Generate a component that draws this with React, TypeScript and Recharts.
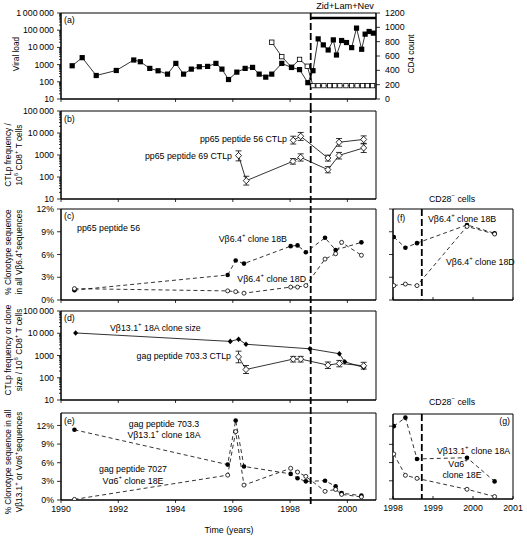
import React from "react";
import {
  LineChart,
  Line,
  XAxis,
  YAxis,
  ReferenceLine,
  ReferenceArea,
  ErrorBar,
} from "recharts";

const FONT = "'Liberation Sans', Arial, Helvetica, sans-serif";

// start of Zid+Lam+Nev therapy
const therapyStart = 1998.72;

const mainYears = [1990, 1992, 1994, 1996, 1998, 2000];
const insetYears = [1998, 1999, 2000, 2001];
const logMajors = [10, 100, 1000, 10000, 100000, 1000000];
const cd4Ticks = [0, 200, 400, 600, 800, 1000, 1200];
const pctTicks = [0, 3, 6, 9, 12];

// (a) CD4 count (filled squares, right axis)
const cd4Years = [
  1990.39, 1990.74, 1991.23, 1991.93, 1992.54, 1992.77, 1993.1, 1993.39, 1993.72, 1994.01,
  1994.28, 1994.55, 1994.83, 1995.12, 1995.41, 1995.62, 1995.85, 1996.14, 1996.43, 1996.69,
  1996.92, 1997.15, 1997.36, 1997.71, 1998.05, 1998.33, 1998.62, 1998.8, 1998.98, 1999.16,
  1999.33, 1999.51, 1999.62, 1999.8, 1999.97, 2000.15, 2000.32, 2000.5, 2000.62, 2000.76,
  2000.91,
];
const cd4Counts = [
  464, 577, 328, 398, 544, 520, 427, 394, 347, 497,
  347, 417, 450, 455, 497, 417, 272, 375, 427, 441,
  347, 305, 347, 497, 440, 410, 228, 395, 839, 755,
  684, 825, 614, 816, 788, 717, 989, 694, 905, 942,
  919,
];

// (a) viral load (open squares, left axis)
const vlYears = [
  1997.36, 1997.71, 1998.05, 1998.33, 1998.6, 1998.8, 1998.98, 1999.18, 1999.38, 1999.56,
  1999.74, 1999.95, 2000.15, 2000.34, 2000.53, 2000.7, 2000.88,
];
const viralLoad = [20000, 2900, 700, 2000, 800, 60, 60, 60, 60, 60, 60, 60, 60, 60, 60, 60, 60];

// (b) CTLp frequencies
const pep56Years = [1998.11, 1998.37, 1999.32, 1999.71, 2000.57];
const pep56Ctlp = [4650, 7100, 730, 3800, 5100];
const pep56Err = [[1500, 2500], [2500, 3500], [200, 250], [1300, 1800], [1700, 2300]];
const pep69Years = [1996.2, 1996.47, 1998.1, 1998.37, 1999.32, 1999.71, 2000.57];
const pep69Ctlp = [940, 68, 515, 780, 215, 960, 2100];
const pep69Err = [[400, 600], [25, 40], [130, 170], [250, 350], [60, 80], [300, 350], [800, 1100]];

// (c) Vb6.4 clonotypes, all cells
const clonYears = [1990.47, 1995.82, 1996.1, 1996.39, 1998.02, 1998.26, 1998.55, 1999.22, 1999.59, 1999.8, 2000.49];
const clone18B = [1.3, 3.3, 5.2, 4.8, 7.1, 7.2, 6.3, 8.2, 6.6, null, 7.6];
const clone18D = [1.5, 1.2, 1.1, 0.9, 1.7, 1.7, 1.9, 5.4, 6.1, 7.6, 5.9];

// (d) clone 18A size and gag 703.3 CTLp
const size18AYears = [1990.51, 1995.91, 1996.2, 1996.46, 1998.69, 1999.72, 1999.91, 2000.57];
const size18A = [10300, 4300, 5400, 3200, 2000, 1200, 520, 290];
const gagYears = [1996.2, 1996.46, 1998.11, 1998.37, 1999.32, 1999.72, 2000.57];
const gagCtlp = [870, 235, 690, 690, 370, 440, 345];
const gagErr = [[400, 700], [80, 120], [180, 220], [180, 220], [110, 140], [130, 160], [100, 150]];

// (e) Vb13.1 clone 18A and Va6 clone 18E, all cells
const clone18A = [11.3, 5.7, 12.8, 5.4, 4.2, 3.5, 3.0, 3.1, 2.2, 1.1, 0.7];
const clone18E = [0.1, 4.0, 11.0, 2.4, 5.1, 4.5, 3.8, 1.4, 1.7, 0.9, 0.5];

// (f), (g) CD28- cells
const cd28Years = [1998.02, 1998.31, 1998.6, 1999.85, 2000.54];
const cd28_18B = [8.3, 6.9, 7.5, 9.9, 8.8];
const cd28_18D = [1.9, 2.1, 1.9, 9.7, 8.7];
const cd28_18A = [12.0, 13.4, 6.6, 6.8, 2.9];
const cd28_18E = [7.4, 3.9, 3.4, 1.6, 0.4];

const zip = (xs: number[], ys: (number | null)[], errs?: number[][]) =>
  xs.map((x, i) => ({ x, y: ys[i], err: errs ? errs[i] : undefined })).filter((d) => d.y != null);

const fmtLog = (v: number) =>
  v >= 10000 ? String(v).replace(/\B(?=(\d{3})+(?!\d))/g, "\u2009") : String(v);

const logTicks = (lo: number, hi: number) => {
  const out: number[] = [];
  logMajors.forEach((m) => {
    if (m < lo || m > hi) return;
    out.push(m);
    if (m < hi) for (let k = 2; k < 10; k++) out.push(m * k);
  });
  return out;
};

// ---- marks ----
const FilledSquare = (p: any) =>
  p.cx == null ? null : <rect key={p.index} x={p.cx - 2.6} y={p.cy - 2.6} width={5.2} height={5.2} fill="#000" />;
const OpenSquare = (p: any) =>
  p.cx == null ? null : (
    <rect key={p.index} x={p.cx - 2.2} y={p.cy - 2.2} width={4.4} height={4.4} fill="#fff" stroke="#000" strokeWidth={0.8} />
  );
const OpenDiamond = (p: any) =>
  p.cx == null ? null : (
    <path key={p.index} d={`M${p.cx},${p.cy - 3.2}L${p.cx + 3},${p.cy}L${p.cx},${p.cy + 3.2}L${p.cx - 3},${p.cy}Z`} fill="#fff" stroke="#000" strokeWidth={0.8} />
  );
const FilledDiamond = (p: any) =>
  p.cx == null ? null : (
    <path key={p.index} d={`M${p.cx},${p.cy - 2.8}L${p.cx + 2.5},${p.cy}L${p.cx},${p.cy + 2.8}L${p.cx - 2.5},${p.cy}Z`} fill="#000" />
  );
const FilledCircle = (p: any) =>
  p.cx == null ? null : <circle key={p.index} cx={p.cx} cy={p.cy} r={2.3} fill="#000" />;
const OpenCircle = (p: any) =>
  p.cx == null ? null : <circle key={p.index} cx={p.cx} cy={p.cy} r={2} fill="#fff" stroke="#000" strokeWidth={0.8} />;

// ---- ticks ----
const LeftTick = (p: any) => {
  const { x, y, payload, majors, labels, fmt } = p;
  const major = majors.includes(payload.value);
  return (
    <g>
      <line x1={x} x2={x - (major ? 4 : 2)} y1={y} y2={y} stroke="#000" strokeWidth={0.8} />
      {labels && major && (
        <text x={x - 7} y={y} dy="0.35em" textAnchor="end" fontSize={8.8} fontFamily={FONT} fill="#000">
          {fmt(payload.value)}
        </text>
      )}
    </g>
  );
};
const RightTick = (p: any) => (
  <g>
    <line x1={p.x} x2={p.x + 4} y1={p.y} y2={p.y} stroke="#000" strokeWidth={0.8} />
    <text x={p.x + 9} y={p.y} dy="0.35em" textAnchor="start" fontSize={8.8} fontFamily={FONT} fill="#000">
      {p.payload.value}
    </text>
  </g>
);
const BottomTick = (p: any) => (
  <g>
    <line x1={p.x} x2={p.x} y1={p.y} y2={p.inward ? p.y - 3 : p.y + 3} stroke="#000" strokeWidth={0.8} />
    {p.labels && (
      <text x={p.x} y={p.y + 6} dy="0.71em" textAnchor="middle" fontSize={8.8} fontFamily={FONT} fill="#000">
        {p.payload.value}
      </text>
    )}
  </g>
);

const therapyShape = (up: number, down: number) => (p: any) => (
  <line
    x1={p.x1}
    x2={p.x2}
    y1={Math.min(p.y1, p.y2) - up}
    y2={Math.max(p.y1, p.y2) + down}
    stroke="#000"
    strokeWidth={1.8}
    strokeDasharray="7 3"
  />
);

const Note = ({ x, y, align = "left", children, size = 8.8 }: any) => (
  <div
    style={{
      position: "absolute",
      left: x,
      top: y,
      transform: `translate(${align === "left" ? "0" : align === "right" ? "-100%" : "-50%"}, -50%)`,
      fontFamily: FONT,
      fontSize: size,
      lineHeight: 1.15,
      whiteSpace: "nowrap",
      textAlign: align,
      color: "#000",
    }}
  >
    {children}
  </div>
);

const YTitle = ({ x, y, lines }: any) => (
  <div
    style={{
      position: "absolute",
      left: x,
      top: y,
      transform: "translate(-50%, -50%) rotate(-90deg)",
      fontFamily: FONT,
      fontSize: 8.3,
      lineHeight: 1.35,
      whiteSpace: "nowrap",
      textAlign: "center",
      color: "#000",
    }}
  >
    {lines.map((l: any, i: number) => (
      <div key={i}>{l}</div>
    ))}
  </div>
);

const Sup = ({ children }: any) => (
  <sup style={{ fontSize: 6, verticalAlign: "top", position: "relative", top: -2 }}>{children}</sup>
);

const lineProps = {
  type: "linear" as const,
  dataKey: "y",
  stroke: "#000",
  strokeWidth: 0.8,
  activeDot: false,
  isAnimationActive: false,
  connectNulls: true,
};
const dashed = "4 3";

const MainX = ({ labels = false, height }: any) => (
  <XAxis
    type="number"
    dataKey="x"
    domain={[1990, 2001]}
    ticks={mainYears}
    allowDataOverflow
    height={height}
    tickSize={0}
    tickMargin={0}
    tickLine={false}
    axisLine={{ stroke: "#000", strokeWidth: 1 }}
    tick={(p: any) => <BottomTick {...p} labels={labels} />}
    interval={0}
  />
);

const InsetX = ({ labels = false, height }: any) => (
  <XAxis
    type="number"
    dataKey="x"
    domain={[1998, 2001]}
    ticks={insetYears}
    allowDataOverflow
    height={height}
    tickSize={0}
    tickMargin={0}
    tickLine={false}
    axisLine={{ stroke: "#000", strokeWidth: 1 }}
    tick={(p: any) => <BottomTick {...p} labels={labels} inward />}
    interval={0}
  />
);

const LogY = ({ lo, hi, id = "l" }: any) => (
  <YAxis
    yAxisId={id}
    scale="log"
    domain={[lo, hi]}
    ticks={logTicks(lo, hi)}
    allowDataOverflow
    width={61}
    tickSize={0}
    tickMargin={0}
    tickLine={false}
    axisLine={{ stroke: "#000", strokeWidth: 1 }}
    tick={(p: any) => <LeftTick {...p} majors={logMajors} labels fmt={fmtLog} />}
    interval={0}
  />
);

const PctY = ({ hi, width = 61, labels = true }: any) => (
  <YAxis
    yAxisId="l"
    domain={[0, hi]}
    ticks={pctTicks}
    allowDataOverflow
    width={width}
    tickSize={0}
    tickMargin={0}
    tickLine={false}
    axisLine={{ stroke: "#000", strokeWidth: 1 }}
    tick={(p: any) => <LeftTick {...p} majors={pctTicks} labels={labels} fmt={(v: number) => `${v}%`} />}
    interval={0}
  />
);

const Frame = ({ x1, x2, y1, y2, id = "l" }: any) => (
  <ReferenceArea yAxisId={id} x1={x1} x2={x2} y1={y1} y2={y2} fill="none" stroke="#000" strokeWidth={1} fillOpacity={0} ifOverflow="visible" />
);

const W = 527;

export default function App() {
  return (
    <div style={{ position: "absolute", left: 0, top: 0, width: W, height: 539, background: "#fff", overflow: "hidden" }}>
      <style>{`svg.recharts-surface { overflow: visible; }`}</style>
      {/* (a) */}
      <div style={{ position: "absolute", left: 0, top: 0 }}>
        <LineChart width={W} height={106} margin={{ top: 13, right: 0, bottom: 0, left: 0 }}>
          <MainX height={7} />
          <LogY lo={10} hi={1000000} />
          <YAxis
            yAxisId="cd4"
            orientation="right"
            domain={[0, 1200]}
            ticks={cd4Ticks}
            width={151}
            tickSize={0}
            tickMargin={0}
            tickLine={false}
            axisLine={{ stroke: "#000", strokeWidth: 1 }}
            tick={(p: any) => <RightTick {...p} />}
            interval={0}
          />
          <Frame x1={1990} x2={2001} y1={10} y2={1000000} />
          <ReferenceLine yAxisId="l" x={therapyStart} shape={therapyShape(0, 7)} />
          <ReferenceLine
            yAxisId="cd4"
            segment={[{ x: therapyStart, y: 1130 }, { x: 2001, y: 1130 }]}
            stroke="#000"
            strokeWidth={2.6}
          />
          <Line {...lineProps} yAxisId="l" data={zip(vlYears, viralLoad)} dot={OpenSquare} />
          <Line {...lineProps} yAxisId="cd4" data={zip(cd4Years, cd4Counts)} dot={FilledSquare} />
        </LineChart>
      </div>

      {/* (b) */}
      <div style={{ position: "absolute", left: 0, top: 106 }}>
        <LineChart width={W} height={100} margin={{ top: 5, right: 151, bottom: 0, left: 0 }}>
          <MainX height={7} />
          <LogY lo={10} hi={100000} />
          <Frame x1={1990} x2={2001} y1={10} y2={100000} />
          <ReferenceLine yAxisId="l" x={therapyStart} shape={therapyShape(5, 7)} />
          <Line {...lineProps} yAxisId="l" data={zip(pep56Years, pep56Ctlp, pep56Err)} dot={OpenDiamond}>
            <ErrorBar dataKey="err" width={3} stroke="#000" strokeWidth={0.8} direction="y" />
          </Line>
          <Line {...lineProps} yAxisId="l" data={zip(pep69Years, pep69Ctlp, pep69Err)} dot={OpenDiamond}>
            <ErrorBar dataKey="err" width={3} stroke="#000" strokeWidth={0.8} direction="y" />
          </Line>
        </LineChart>
      </div>

      {/* (c) */}
      <div style={{ position: "absolute", left: 0, top: 206 }}>
        <LineChart width={W} height={101} margin={{ top: 3, right: 151, bottom: 0, left: 0 }}>
          <MainX height={7} />
          <PctY hi={12} />
          <Frame x1={1990} x2={2001} y1={0} y2={12} />
          <ReferenceLine yAxisId="l" x={therapyStart} shape={therapyShape(3, 7)} />
          <Line {...lineProps} yAxisId="l" strokeDasharray={dashed} data={zip(clonYears, clone18B)} dot={FilledCircle} />
          <Line {...lineProps} yAxisId="l" strokeDasharray={dashed} data={zip(clonYears, clone18D)} dot={OpenCircle} />
        </LineChart>
      </div>

      {/* (d) */}
      <div style={{ position: "absolute", left: 0, top: 307 }}>
        <LineChart width={W} height={100} margin={{ top: 4, right: 151, bottom: 0, left: 0 }}>
          <MainX height={7} />
          <LogY lo={10} hi={100000} />
          <Frame x1={1990} x2={2001} y1={10} y2={100000} />
          <ReferenceLine yAxisId="l" x={therapyStart} shape={therapyShape(4, 7)} />
          <Line {...lineProps} yAxisId="l" data={zip(size18AYears, size18A)} dot={FilledDiamond} />
          <Line {...lineProps} yAxisId="l" data={zip(gagYears, gagCtlp, gagErr)} dot={OpenDiamond}>
            <ErrorBar dataKey="err" width={3} stroke="#000" strokeWidth={0.8} direction="y" />
          </Line>
        </LineChart>
      </div>

      {/* (e) */}
      <div style={{ position: "absolute", left: 0, top: 407 }}>
        <LineChart width={W} height={132} margin={{ top: 6, right: 151, bottom: 0, left: 0 }}>
          <MainX height={39} labels />
          <PctY hi={14} />
          <Frame x1={1990} x2={2001} y1={0} y2={14} />
          <ReferenceLine yAxisId="l" x={therapyStart} shape={therapyShape(6, 6)} />
          <Line {...lineProps} yAxisId="l" strokeDasharray={dashed} data={zip(clonYears, clone18A)} dot={FilledCircle} />
          <Line {...lineProps} yAxisId="l" strokeDasharray={dashed} data={zip(clonYears, clone18E)} dot={OpenCircle} />
        </LineChart>
      </div>

      {/* (f) */}
      <div style={{ position: "absolute", left: 360, top: 206 }}>
        <LineChart width={167} height={101} margin={{ top: 3, right: 14, bottom: 0, left: 0 }}>
          <InsetX height={7} />
          <PctY hi={12} width={33} labels={false} />
          <Frame x1={1998} x2={2001} y1={0} y2={12} />
          <ReferenceLine yAxisId="l" x={therapyStart} shape={therapyShape(0, 0)} />
          <Line {...lineProps} yAxisId="l" strokeDasharray={dashed} data={zip(cd28Years, cd28_18B)} dot={FilledCircle} />
          <Line {...lineProps} yAxisId="l" strokeDasharray={dashed} data={zip(cd28Years, cd28_18D)} dot={OpenCircle} />
        </LineChart>
      </div>

      {/* (g) */}
      <div style={{ position: "absolute", left: 360, top: 407 }}>
        <LineChart width={167} height={132} margin={{ top: 7, right: 14, bottom: 0, left: 0 }}>
          <InsetX height={40} labels />
          <PctY hi={14} width={33} labels={false} />
          <Frame x1={1998} x2={2001} y1={0} y2={14} />
          <ReferenceLine yAxisId="l" x={therapyStart} shape={therapyShape(0, 0)} />
          <Line {...lineProps} yAxisId="l" strokeDasharray={dashed} data={zip(cd28Years, cd28_18A)} dot={FilledCircle} />
          <Line {...lineProps} yAxisId="l" strokeDasharray={dashed} data={zip(cd28Years, cd28_18E)} dot={OpenCircle} />
        </LineChart>
      </div>

      {/* annotations */}
      <Note x={345} y={6} align="center" size={9.2}>Zid+Lam+Nev</Note>
      <Note x={64} y={20}>(a)</Note>
      <Note x={64} y={119}>(b)</Note>
      <Note x={287} y={139} align="right">pp65 peptide 56 CTLp</Note>
      <Note x={232} y={156} align="right">pp65 peptide 69 CTLp</Note>
      <Note x={64} y={216}>(c)</Note>
      <Note x={77} y={228}>pp65 peptide 56</Note>
      <Note x={287} y={239} align="right">Vβ6.4<Sup>+</Sup> clone 18B</Note>
      <Note x={306} y={279} align="right">Vβ6.4<Sup>+</Sup> clone 18D</Note>
      <Note x={64} y={318}>(d)</Note>
      <Note x={110} y={328}>Vβ13.1<Sup>+</Sup> 18A clone size</Note>
      <Note x={231} y={356} align="right">gag peptide 703.3 CTLp</Note>
      <Note x={64} y={421}>(e)</Note>
      <Note x={164} y={424} align="center">gag peptide 703.3</Note>
      <Note x={164} y={435} align="center">Vβ13.1<Sup>+</Sup> clone 18A</Note>
      <Note x={133} y={469} align="center">gag peptide 7027</Note>
      <Note x={133} y={481} align="center">Vα6<Sup>+</Sup> clone 18E</Note>
      <Note x={229} y={530} align="center">Time (years)</Note>

      <Note x={452} y={199} align="center">CD28<Sup>−</Sup> cells</Note>
      <Note x={397} y={218}>(f)</Note>
      <Note x={428} y={219}>Vβ6.4<Sup>+</Sup> clone 18B</Note>
      <Note x={446} y={262}>Vβ6.4<Sup>+</Sup> clone 18D</Note>
      <Note x={452} y={402} align="center">CD28<Sup>−</Sup> cells</Note>
      <Note x={510} y={421} align="right">(g)</Note>
      <Note x={437} y={451}>Vβ13.1<Sup>+</Sup> clone 18A</Note>
      <Note x={458} y={464} align="center">Vα6<Sup>+</Sup></Note>
      <Note x={462} y={475} align="center">clone 18E</Note>

      <YTitle x={17} y={54} lines={["Viral load"]} />
      <YTitle x={412} y={54} lines={["CD4 count"]} />
      <YTitle x={14} y={155} lines={["CTLp frequency /", <span>10<Sup>6</Sup> CD8<Sup>+</Sup> T cells</span>]} />
      <YTitle x={14} y={252} lines={["% Clonotype sequence", <span>in all Vβ6.4<Sup>+</Sup>sequences</span>]} />
      <YTitle x={14} y={350} lines={["CTLp frequency or clone", <span>size / 10<Sup>6</Sup> CD8<Sup>+</Sup> T cells</span>]} />
      <YTitle x={14} y={462} lines={["% Clonotype sequence in all", <span>Vβ13.1<Sup>+</Sup> or Vα6<Sup>+</Sup>sequences</span>]} />
    </div>
  );
}
